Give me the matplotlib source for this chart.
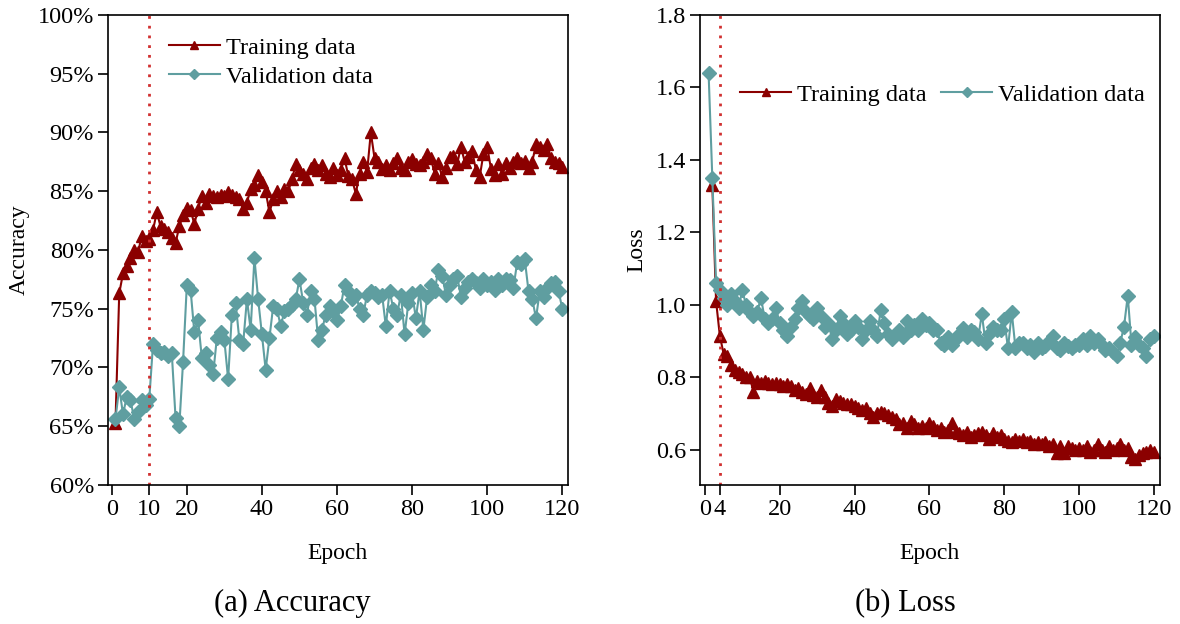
import matplotlib
matplotlib.use("Agg")
import matplotlib.pyplot as plt
import numpy as np

plt.rcParams['font.family'] = ['Liberation Serif', 'DejaVu Serif']

# Datos (epocas 1..120)
epochs = np.arange(1, 121)

acc_train = [65.3, 76.3, 78.0, 78.6, 79.3, 80.0, 79.8, 81.2, 80.8, 80.9,
             81.7, 83.2, 82.0, 81.8, 81.5, 81.0, 80.6, 82.0, 83.0, 83.6,
             83.4, 82.2, 83.5, 84.6, 84.0, 84.8, 84.6, 84.5, 84.7, 84.6,
             84.9, 84.7, 84.5, 84.3, 83.5, 84.0, 85.2, 85.5, 86.4, 85.8,
             85.0, 83.2, 84.3, 85.0, 84.5, 85.2, 85.0, 86.0, 87.3, 86.8,
             86.5, 86.0, 87.0, 87.3, 86.8, 87.2, 86.5, 86.2, 87.0, 86.4,
             86.8, 87.8, 86.3, 86.0, 84.8, 86.5, 87.5, 86.6, 90.0, 87.8,
             87.5, 86.9, 87.2, 86.8, 87.4, 87.8, 87.0, 86.8, 87.5, 87.7,
             87.3, 87.2, 87.5, 88.2, 87.8, 86.5, 87.4, 86.2, 87.0, 87.9,
             88.0, 87.3, 88.8, 87.5, 87.9, 88.4, 86.8, 86.2, 88.2, 88.8,
             86.9, 86.4, 87.3, 86.5, 87.4, 87.0, 87.5, 87.8, 87.4, 87.6,
             87.0, 87.5, 89.0, 88.8, 88.5, 89.0, 87.8, 87.5, 87.4, 87.1]

acc_val = [65.6, 68.3, 66.0, 67.5, 67.2, 65.6, 66.2, 67.2, 66.8, 67.3,
           72.0, 71.5, 71.2, 71.3, 71.0, 71.2, 65.7, 65.0, 70.5, 77.0,
           76.6, 73.0, 74.0, 70.8, 71.2, 70.2, 69.4, 72.5, 73.0, 72.3,
           69.0, 74.5, 75.5, 72.3, 72.0, 75.8, 73.2, 79.3, 75.8, 72.8,
           69.8, 72.5, 75.2, 75.0, 73.5, 74.8, 75.0, 75.3, 75.8, 77.5,
           75.5, 74.5, 76.5, 75.8, 72.3, 73.2, 74.5, 75.2, 74.8, 74.0,
           75.2, 77.0, 76.5, 75.8, 76.2, 75.0, 74.5, 76.2, 76.5, 76.3,
           76.0, 76.2, 73.5, 76.5, 75.0, 74.5, 76.2, 72.8, 75.5, 76.3,
           74.2, 76.5, 73.2, 76.0, 77.0, 76.5, 78.3, 77.8, 76.2, 77.0,
           77.5, 77.8, 76.0, 76.8, 77.3, 77.5, 77.2, 76.8, 77.5, 77.0,
           77.3, 76.6, 77.5, 77.0, 77.5, 77.4, 76.8, 79.0, 78.8, 79.2,
           76.5, 75.8, 74.2, 76.5, 76.0, 76.8, 77.2, 77.3, 76.5, 75.0]

loss_train = [np.nan, 1.33, 1.01, 0.915, 0.865, 0.86, 0.835, 0.82, 0.815, 0.81,
              0.80, 0.80, 0.76, 0.79, 0.785, 0.79, 0.785, 0.78, 0.785, 0.78,
              0.775, 0.78, 0.775, 0.765, 0.77, 0.76, 0.755, 0.77, 0.75, 0.745,
              0.765, 0.745, 0.73, 0.72, 0.74, 0.735, 0.73, 0.725, 0.725, 0.72,
              0.715, 0.71, 0.715, 0.70, 0.69, 0.70, 0.705, 0.70, 0.695, 0.69,
              0.685, 0.67, 0.675, 0.66, 0.68, 0.67, 0.66, 0.665, 0.66, 0.675,
              0.665, 0.655, 0.66, 0.65, 0.655, 0.675, 0.65, 0.645, 0.64, 0.65,
              0.635, 0.64, 0.645, 0.65, 0.64, 0.63, 0.645, 0.635, 0.64, 0.63,
              0.625, 0.62, 0.63, 0.625, 0.63, 0.62, 0.625, 0.615, 0.62, 0.615,
              0.62, 0.61, 0.615, 0.59, 0.61, 0.59, 0.61, 0.605, 0.60, 0.605,
              0.60, 0.61, 0.595, 0.60, 0.615, 0.60, 0.595, 0.61, 0.60, 0.605,
              0.615, 0.60, 0.605, 0.58, 0.575, 0.585, 0.59, 0.595, 0.60, 0.595]

loss_val = [1.64, 1.35, 1.06, 1.04, 1.02, 1.00, 1.03, 1.01, 0.99, 1.04,
            1.00, 0.98, 0.97, 0.98, 1.02, 0.96, 0.95, 0.96, 0.99, 0.95,
            0.93, 0.915, 0.94, 0.96, 0.99, 1.01, 0.98, 0.97, 0.96, 0.99,
            0.97, 0.94, 0.95, 0.905, 0.93, 0.97, 0.95, 0.92, 0.93, 0.955,
            0.94, 0.905, 0.93, 0.955, 0.93, 0.915, 0.985, 0.95, 0.92, 0.905,
            0.92, 0.93, 0.91, 0.955, 0.93, 0.945, 0.93, 0.96, 0.945, 0.95,
            0.93, 0.93, 0.895, 0.89, 0.91, 0.89, 0.905, 0.92, 0.935, 0.91,
            0.93, 0.925, 0.905, 0.975, 0.895, 0.92, 0.94, 0.93, 0.93, 0.96,
            0.88, 0.98, 0.88, 0.895, 0.895, 0.88, 0.89, 0.87, 0.895, 0.88,
            0.885, 0.90, 0.915, 0.88, 0.875, 0.895, 0.885, 0.88, 0.89, 0.89,
            0.905, 0.89, 0.915, 0.895, 0.905, 0.89, 0.875, 0.88, 0.87, 0.86,
            0.895, 0.94, 1.025, 0.89, 0.91, 0.89, 0.88, 0.86, 0.905, 0.915]

acc_ticks = [0, 10, 20, 40, 60, 80, 100, 120]
loss_ticks = [0, 4, 20, 40, 60, 80, 100, 120]
acc_yticks = [60, 65, 70, 75, 80, 85, 90, 95, 100]
loss_yticks = [0.6, 0.8, 1.0, 1.2, 1.4, 1.6, 1.8]
acc_mark = 10
loss_mark = 4

c_train = "#8B0000"
c_val = "#5F9EA0"
c_mark = "#D03030"

fig = plt.figure(figsize=(11.8, 6.24), dpi=100)
ax1 = fig.add_axes([0.0915, 0.223, 0.3898, 0.753])
ax2 = fig.add_axes([0.5932, 0.223, 0.3898, 0.753])

leg_kw = dict(frameon=False, fontsize=17.5, handlelength=2.1, handletextpad=0.25,
              markerscale=0.75, borderaxespad=0.2)

# Grafica de exactitud
ax1.plot(epochs, acc_train, color=c_train, marker="^", markersize=8.5, lw=1.5, label="Training data")
ax1.plot(epochs, acc_val, color=c_val, marker="D", markersize=7, lw=1.5, label="Validation data")
ax1.axvline(acc_mark, color=c_mark, ls=(0, (1, 2.5)), lw=2)
ax1.set_xlim(-1, 121.5)
ax1.set_ylim(60, 100)
ax1.set_xticks(acc_ticks)
ax1.set_yticks(acc_yticks)
ax1.set_yticklabels([f"{v}%" for v in acc_yticks])
ax1.set_xlabel("Epoch", fontsize=17, labelpad=17)
ax1.set_ylabel("Accuracy", fontsize=17, labelpad=6)
ax1.legend(loc="upper left", bbox_to_anchor=(0.1, 0.985), labelspacing=0.3, **leg_kw)

# Grafica de perdida
ax2.plot(epochs, loss_train, color=c_train, marker="^", markersize=8.5, lw=1.5, label="Training data")
ax2.plot(epochs, loss_val, color=c_val, marker="D", markersize=7, lw=1.5, label="Validation data")
ax2.axvline(loss_mark, color=c_mark, ls=(0, (1, 2.5)), lw=2)
ax2.set_xlim(-1.3, 121.6)
ax2.set_ylim(0.503, 1.8)
ax2.set_xticks(loss_ticks)
ax2.set_yticks(loss_yticks)
ax2.set_yticklabels([f"{v:.1f}" for v in loss_yticks])
ax2.set_xlabel("Epoch", fontsize=17, labelpad=17)
ax2.set_ylabel("Loss", fontsize=17, labelpad=6)
ax2.legend(loc="upper right", bbox_to_anchor=(1.0, 0.885), ncol=2, columnspacing=0.6, **leg_kw)

# Subtitulos
fig.text(0.2475, 0.033, "(a) Accuracy", ha="center", va="center", fontsize=22)
fig.text(0.767, 0.033, "(b) Loss", ha="center", va="center", fontsize=22)

for ax in (ax1, ax2):
    ax.tick_params(direction="out", length=7, width=1.2, labelsize=17.5, pad=3, top=False, right=False)
    for s in ax.spines.values():
        s.set_linewidth(1.2)

fig.savefig("out.png", dpi=100)
